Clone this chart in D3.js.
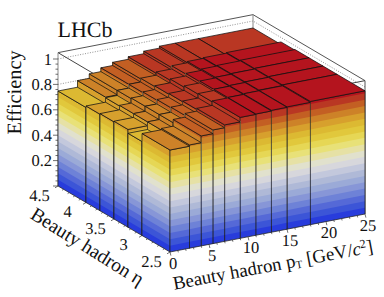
<!DOCTYPE html>
<html><head><meta charset="utf-8">
<script src="https://cdn.jsdelivr.net/npm/d3@7/dist/d3.min.js"></script>
<style>html,body{margin:0;padding:0;background:#fff}svg{display:block}text{font-family:"Liberation Serif",serif;fill:#111;text-rendering:geometricPrecision}</style>
</head><body><svg id="c" width="384" height="297"></svg>
<script>
const ptEdges=[0,2.5,4,5.5,7,9,11,13,15,18,25];
const etaEdges=[2.5,3,3.25,3.5,3.75,4,4.5];
const heights=[
 [.803,.813,.866,.895,.917,.952,.955,.96,.963,.97],
 [.74,.80,.84,.88,.91,.945,.955,.96,.965,.97],
 [.77,.80,.84,.875,.905,.94,.955,.96,.965,.97],
 [.765,.80,.84,.87,.90,.93,.95,.96,.965,.97],
 [.76,.795,.835,.865,.895,.92,.945,.955,.96,.965],
 [.748,.80,.835,.865,.89,.91,.93,.945,.945,.945]
];
const levelColors=["#283cdc","#3c55d7","#5569d7","#6e82d7","#8796d7","#9baad7","#afb9d7","#c3c8dc","#d7d7dc","#e1e1cd","#e6e1a5","#e8e178","#e6d755","#e1c83c","#dcb932","#d7a02d","#cd8228","#c35f23","#b93723","#b4141e"];
const zTickLabels=[.2,.4,.6,.8,1], ptTickLabels=[0,5,10,15,20,25], etaTickLabels=[2.5,3,3.5,4,4.5];
const svg=d3.select("#c");
const ptX=d3.scaleLinear([0,25],[0,195]),ptY=d3.scaleLinear([0,25],[0,-38]);
const etaX=d3.scaleLinear([2.5,4.5],[0,-112]),etaY=d3.scaleLinear([2.5,4.5],[0,-66]);
const zY=d3.scaleLinear([0,1],[0,-127]);
const level=d3.scaleQuantize([0,1],levelColors);
const P=(p,e,z)=>[170+ptX(p)+etaX(e),252+ptY(p)+etaY(e)+zY(z)];
const line=d3.line();
const path=(g,pts,attrs)=>{const s=g.append("path").attr("d",line(pts));Object.entries(attrs).forEach(([k,v])=>s.attr(k,v));return s;};
const zTop=1.05;
// box
const box=svg.append("g");
const gridOpts={fill:"none",stroke:"#777","stroke-width":.8,"stroke-dasharray":"1 1.5"};
[.8,1].forEach(z=>path(box,[P(0,4.5,z),P(25,4.5,z),P(25,2.5,z)],gridOpts));
const boxOpts={fill:"none",stroke:"#444","stroke-width":1};
path(box,[P(0,4.5,zTop),P(25,4.5,zTop),P(25,2.5,zTop),P(25,2.5,0)],boxOpts).attr("stroke","#555");
path(box,[P(25,4.5,0),P(25,4.5,zTop)],{fill:"none",stroke:"#888","stroke-width":1});
path(box,[P(0,4.5,zTop),P(0,2.5,zTop),P(25,2.5,zTop)],boxOpts);
path(box,[P(0,4.5,0),P(0,4.5,zTop)],{fill:"none",stroke:"#888","stroke-width":1});
// bars back to front
const bars=svg.append("g");
const edge={fill:"none",stroke:"#222","stroke-width":.75,"stroke-linejoin":"round"};
function wall(a,b,h){
 const g=bars.append("g");
 levelColors.forEach((c,i)=>{
  const z0=i/levelColors.length; if(z0>=h)return;
  path(g,[a(z0),b(z0),b(h),a(h)],{fill:c});
 });
 path(g,[a(0),b(0),b(h),a(h),a(0)],edge);
}
for(let j=etaEdges.length-2;j>=0;j--){
 for(let i=ptEdges.length-2;i>=0;i--){
  const h=heights[j][i],p0=ptEdges[i],p1=ptEdges[i+1],e0=etaEdges[j],e1=etaEdges[j+1];
  wall(z=>P(p0,e1,z),z=>P(p0,e0,z),h);
  wall(z=>P(p0,e0,z),z=>P(p1,e0,z),h);
  const top=[P(p0,e0,h),P(p1,e0,h),P(p1,e1,h),P(p0,e1,h)];
  bars.append("path").attr("d",line(top)+"Z").attr("fill",level(h)).attr("stroke","#111").attr("stroke-width",.75).attr("stroke-linejoin","round");
 }
}
// axes
const ax=svg.append("g").attr("fill","none").attr("stroke","#333").attr("stroke-width",.7);
d3.range(0,25.01,1).forEach(t=>{const a=P(t,2.5,0),m=t%5===0;ax.append("path").attr("d",line([a,[a[0]+(m?.9:.5),a[1]+(m?3.6:1.9)]]));});
d3.range(0,20.01,1).map(d=>2.5+d/10).forEach((t,i)=>{const a=P(0,t,0),m=i%5===0;ax.append("path").attr("d",line([a,[a[0]-(m?3:1.6),a[1]+(m?1.8:1)]]));});
d3.range(0,26).map(d=>d*.04).forEach((t,i)=>{const a=P(0,4.5,t),m=i%5===0;ax.append("path").attr("d",line([a,[a[0]-(m?5:2.5),a[1]]]));});
const txt=(x,y,s,fs,anchor="middle",rot=0)=>svg.append("text").attr("transform",`translate(${x},${y}) rotate(${rot})`).attr("text-anchor",anchor).attr("font-size",fs).text(s);
zTickLabels.forEach(t=>{const a=P(0,4.5,t);txt(a[0]-6,a[1]+5.5,t,16.5,"end");});
ptTickLabels.forEach(t=>{const a=P(t,2.5,0);txt(a[0]+3,a[1]+16.5,t,16.5);});
etaTickLabels.forEach(t=>{const a=P(0,t,0);txt(a[0]-18.5,a[1]+14.5,t,16.5);});
txt(57.5,37,"LHCb",22,"start");
txt(20.5,92.5,"Efficiency",20.3,"middle",-90);
txt(84,252,"Beauty hadron η",19.5,"middle",32);
const t=txt(274,271,"",18.8,"middle",-10.6);
t.append("tspan").text("Beauty hadron p");
t.append("tspan").attr("font-size",11).attr("dy",2).text("T");
t.append("tspan").attr("dy",-2).text(" [GeV/");
t.append("tspan").attr("font-style","italic").text("c");
t.append("tspan").attr("font-size",12).attr("dy",-6.5).text("2");
t.append("tspan").attr("dy",6.5).text("]");
</script></body></html>
